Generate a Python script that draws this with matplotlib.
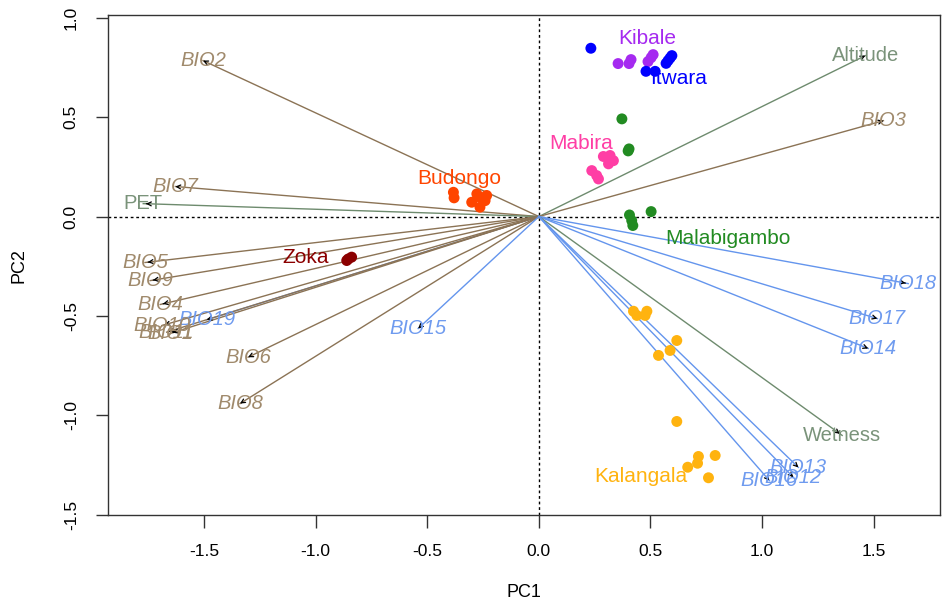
import numpy as np
import matplotlib
matplotlib.use("Agg")
import matplotlib.pyplot as plt

plt.rcParams['font.family'] = ['Liberation Sans', 'DejaVu Sans']

# ---- variable loadings (arrow tips) ----
var_names = ['BIO2', 'Altitude', 'BIO3', 'BIO7', 'PET', 'BIO5', 'BIO9', 'BIO4',
             'BIO19', 'BIO10', 'BIO11', 'BIO1', 'BIO6', 'BIO8', 'BIO15',
             'BIO18', 'BIO17', 'BIO14', 'Wetness', 'BIO13', 'BIO12', 'BIO16']
var_x = [-1.505, 1.463, 1.544, -1.629, -1.773, -1.765, -1.742, -1.697,
         -1.489, -1.690, -1.668, -1.653, -1.303, -1.339, -0.541,
         1.655, 1.517, 1.476, 1.359, 1.163, 1.140, 1.033]
var_y = [0.784, 0.809, 0.482, 0.151, 0.065, -0.231, -0.322, -0.442,
         -0.519, -0.548, -0.581, -0.588, -0.707, -0.940, -0.563,
         -0.337, -0.513, -0.663, -1.100, -1.261, -1.310, -1.327]
# group: t = temperature, p = precipitation, e = environment
var_group = ['t', 'e', 't', 't', 'e', 't', 't', 't',
             'p', 't', 't', 't', 't', 't', 'p',
             'p', 'p', 'p', 'e', 'p', 'p', 'p']

line_col = {'t': '#8B7355', 'p': '#6495ED', 'e': '#6E8B6E'}
text_col = {'t': '#A08A6C', 'p': '#6F9BEF', 'e': '#7A937A'}

# ---- site scores ----
sites = ['Kibale', 'Itwara', 'Mabira', 'Budongo', 'Zoka', 'Malabigambo', 'Kalangala']
site_colors = ['#A52AF0', '#0000FF', '#FF3EA5', '#FF4500', '#8B0000', '#228B22', '#FFB30F']
site_label_x = [0.485, 0.628, 0.190, -0.357, -1.047, 0.845, 0.459]
site_label_y = [0.894, 0.693, 0.367, 0.191, -0.206, -0.111, -1.307]

kibale_x = [0.355, 0.404, 0.413, 0.489, 0.503, 0.512]
kibale_y = [0.769, 0.769, 0.789, 0.779, 0.799, 0.814]
itwara_x = [0.233, 0.480, 0.521, 0.570, 0.588, 0.596, 0.579]
itwara_y = [0.846, 0.730, 0.730, 0.770, 0.797, 0.809, 0.784]
mabira_x = [0.289, 0.319, 0.334, 0.312, 0.237, 0.259, 0.267]
mabira_y = [0.302, 0.307, 0.281, 0.265, 0.231, 0.206, 0.189]
budongo_x = [-0.383, -0.380, -0.301, -0.264, -0.241, -0.264, -0.234, -0.278]
budongo_y = [0.122, 0.094, 0.072, 0.097, 0.080, 0.047, 0.106, 0.114]
zoka_x = [-0.861, -0.839, -0.854]
zoka_y = [-0.221, -0.204, -0.213]
malabigambo_x = [0.372, 0.404, 0.400, 0.406, 0.503, 0.416, 0.421]
malabigambo_y = [0.491, 0.340, 0.330, 0.008, 0.025, -0.020, -0.045]
kalangala_x = [0.424, 0.439, 0.484, 0.476, 0.618, 0.588, 0.536, 0.618,
               0.715, 0.711, 0.667, 0.790, 0.760]
kalangala_y = [-0.476, -0.497, -0.476, -0.497, -0.623, -0.673, -0.698, -1.030,
               -1.206, -1.240, -1.260, -1.201, -1.313]

site_x = [kibale_x, itwara_x, mabira_x, budongo_x, zoka_x, malabigambo_x, kalangala_x]
site_y = [kibale_y, itwara_y, mabira_y, budongo_y, zoka_y, malabigambo_y, kalangala_y]

fig = plt.figure(figsize=(9.42, 6.09), dpi=100)
ax = fig.add_axes([0.1146, 0.1544, 0.8834, 0.8206])

ax.axhline(0, color='black', lw=1, ls=(0, (2, 2)), zorder=1)
ax.axvline(0, color='black', lw=1, ls=(0, (2, 2)), zorder=1)

# arrows from origin
for nm, x, y, g in zip(var_names, var_x, var_y, var_group):
    ax.plot([0, x], [0, y], color=line_col[g], lw=1, zorder=2)
    ax.annotate('', xy=(x, y), xytext=(0.985 * x, 0.985 * y),
                arrowprops=dict(arrowstyle='->', color='black', lw=0.9,
                                mutation_scale=7), zorder=3)
    style = 'normal' if g == 'e' else 'italic'
    ax.text(x, y, nm, color=text_col[g], fontsize=14.5, style=style,
            ha='center', va='center', zorder=4)

# sites
for nm, c, xs, ys, lx, ly in zip(sites, site_colors, site_x, site_y,
                                 site_label_x, site_label_y):
    ax.scatter(xs, ys, s=62, color=c, edgecolors='none', zorder=5)
    ax.text(lx, ly, nm, color=c, fontsize=15, ha='center', va='center', zorder=6)

ax.set_xlim(-1.931, 1.798)
ax.set_ylim(-1.5, 1.012)
ax.set_xticks([-1.5, -1.0, -0.5, 0.0, 0.5, 1.0, 1.5])
ax.set_yticks([-1.5, -1.0, -0.5, 0.0, 0.5, 1.0])
ax.set_xticklabels(['-1.5', '-1.0', '-0.5', '0.0', '0.5', '1.0', '1.5'])
ax.set_yticklabels(['-1.5', '-1.0', '-0.5', '0.0', '0.5', '1.0'], rotation=90, va='center')
ax.tick_params(direction='out', length=9, width=1, labelsize=12.5, pad=12, color='#333333')
for s in ax.spines.values():
    s.set_linewidth(1)
    s.set_color('#333333')
ax.set_xlabel('PC1', fontsize=13, labelpad=18)
ax.set_ylabel('PC2', fontsize=13, labelpad=26)

fig.savefig('out.png', dpi=100)
